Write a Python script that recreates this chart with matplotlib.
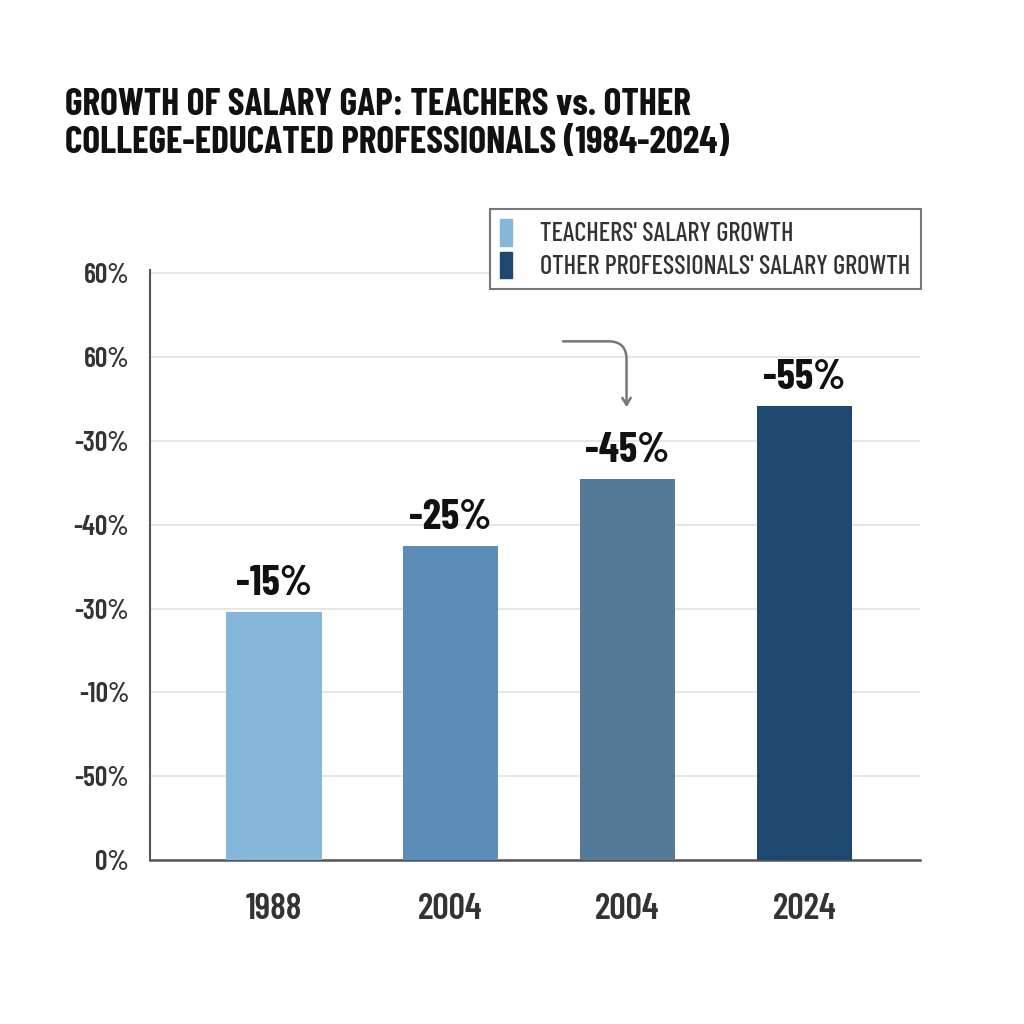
import matplotlib
matplotlib.use("Agg")
import matplotlib.pyplot as plt
from matplotlib.patches import Patch

# values
years = ["1988", "2004", "2004", "2024"]
bar_heights = [29.6, 37.5, 45.5, 54.2]
bar_labels = ["-15%", "-25%", "-45%", "-55%"]
tick_pos = [0, 10, 20, 30, 40, 50, 60, 70]
tick_labels = ["0%", "-50%", "-10%", "-30%", "-40%", "-30%", "60%", "60%"]
colors = ["#86b6da", "#5b8db8", "#557a98", "#1e4870"]
legend_labels = ["TEACHERS' SALARY GROWTH", "OTHER PROFESSIONALS' SALARY GROWTH"]
title = "GROWTH OF SALARY GAP: TEACHERS vs. OTHER\nCOLLEGE-EDUCATED PROFESSIONALS (1984-2024)"

plt.rcParams['font.family'] = ['Barlow Condensed', 'DejaVu Sans']

fig = plt.figure(figsize=(10.24, 10.24), dpi=100)
ax = fig.add_axes([0.1465, 0.1602, 0.752, 0.576])

x = range(len(years))
ax.bar(x, bar_heights, width=0.54, color=colors, zorder=3)

# value labels on top of bars
for i, (h, lab) in enumerate(zip(bar_heights, bar_labels)):
    ax.text(i, h + 1.1, lab, ha='center', va='bottom', fontsize=30,
            fontweight='bold', color='#111111')

ax.set_xlim(-0.70, 3.655)
ax.set_ylim(0, 70.4)
ax.set_yticks(tick_pos)
ax.set_yticklabels(tick_labels, fontsize=20, color='#333333', fontweight='semibold')
ax.set_xticks(list(x))
ax.set_xticklabels(years, fontsize=26, color='#333333', fontweight='semibold')
ax.tick_params(axis='both', length=0)
ax.tick_params(axis='y', pad=15)
ax.tick_params(axis='x', pad=24)
ax.grid(axis='y', color='#e2e2e2', linewidth=1.2, zorder=0)

for s in ['top', 'right']:
    ax.spines[s].set_visible(False)
ax.spines['left'].set_color('#555555')
ax.spines['bottom'].set_color('#555555')
ax.spines['left'].set_linewidth(1.5)
ax.spines['bottom'].set_linewidth(1.8)

# curved pointer above the third bar
ax.annotate('', xy=(1.995, 53.7), xytext=(1.62, 61.9),
            arrowprops=dict(arrowstyle='->,head_width=0.3,head_length=0.5',
                            connectionstyle='angle,angleA=0,angleB=90,rad=18',
                            color='#777777', lw=1.8))

handles = [Patch(color=colors[0]), Patch(color=colors[3])]
leg = fig.legend(handles, legend_labels,
                 loc='upper right', bbox_to_anchor=(0.899, 0.796), borderaxespad=0,
                 fancybox=False, framealpha=1, edgecolor='#777777',
                 prop={'size': 19, 'weight': 'medium'}, handlelength=0.45, handleheight=1.15,
                 handletextpad=1.05, labelspacing=0.2, borderpad=0.4)
leg.get_frame().set_linewidth(1.5)
for t in leg.get_texts():
    t.set_color('#333333')

fig.text(0.063, 0.879, title,
         fontsize=27, fontweight='bold', color='#111111', va='center', ha='left',
         linespacing=1.12)

fig.savefig("out.png", dpi=100, facecolor='white')
